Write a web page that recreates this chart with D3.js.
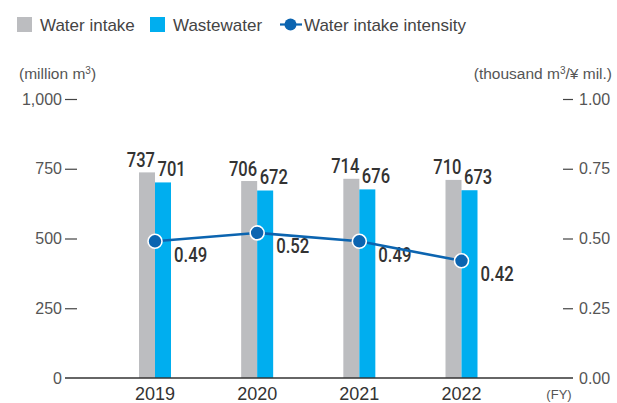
<!DOCTYPE html>
<html>
<head>
<meta charset="utf-8">
<script src="https://cdn.jsdelivr.net/npm/d3@7"></script>
<style>
  html, body { margin: 0; padding: 0; background: #fff; }
  svg { display: block; font-family: "Liberation Sans", Arial, sans-serif; }
</style>
</head>
<body>
<svg id="chart" width="617" height="403"></svg>
<script>
// Fiscal years and series
const years = ["2019", "2020", "2021", "2022"];
const waterIntake = [737, 706, 714, 710];       // million m³
const wastewater = [701, 672, 676, 673];        // million m³
const intensity = [0.49, 0.52, 0.49, 0.42];     // thousand m³ / ¥ mil.
const leftTicks = [0, 250, 500, 750, 1000];
const rightTicks = [0, 0.25, 0.5, 0.75, 1.0];

const svg = d3.select("#chart");
const colGray = "#bcbdc0";
const colBlue = "#00aeef";
const colLine = "#0b64b0";
const colText = "#555";

const plotLeft = 65, plotRight = 573;
const yTop = 99, yBottom = 378;

const x = d3.scalePoint().domain(years).range([155, 461.5]);
const yL = d3.scaleLinear().domain([0, 1000]).range([yBottom, yTop]);
const yR = d3.scaleLinear().domain([0, 1]).range([yBottom, yTop]);
const barW = 16;

// Left axis
const leftAxis = d3.axisLeft(yL).tickValues(leftTicks)
  .tickFormat(d3.format(",")).tickSize(0).tickPadding(0);
const gL = svg.append("g").attr("transform", `translate(${plotLeft},0)`).call(leftAxis);
gL.select(".domain").remove();
gL.selectAll(".tick text").attr("x", -3).attr("fill", colText)
  .style("font-size", "16px").style("font-family", "'Liberation Sans',Arial,sans-serif");
gL.selectAll(".tick").filter(d => d > 0).append("line")
  .attr("x1", 0).attr("x2", 12).attr("stroke", "#444").attr("stroke-width", 1.2);

// Right axis
const rightAxis = d3.axisRight(yR).tickValues(rightTicks)
  .tickFormat(d3.format(".2f")).tickSize(0).tickPadding(0);
const gR = svg.append("g").attr("transform", `translate(${plotRight},0)`).call(rightAxis);
gR.select(".domain").remove();
gR.selectAll(".tick text").attr("x", 6).attr("fill", colText)
  .style("font-size", "16px").style("font-family", "'Liberation Sans',Arial,sans-serif");
gR.selectAll(".tick").filter(d => d > 0).append("line")
  .attr("x1", -10).attr("x2", 0).attr("stroke", "#444").attr("stroke-width", 1.2);

// Axis titles
svg.append("text").attr("x", 19).attr("y", 79).attr("fill", colText)
  .style("font-size", "15.5px").html("(million m<tspan dy='-5' font-size='10'>3</tspan><tspan dy='5'>)</tspan>");
svg.append("text").attr("x", 612).attr("y", 79).attr("text-anchor", "end").attr("fill", colText)
  .style("font-size", "15.5px").html("(thousand m<tspan dy='-5' font-size='10'>3</tspan><tspan dy='5'>/¥ mil.)</tspan>");

// Bars
const bars = svg.append("g");
bars.selectAll("rect.intake").data(years).join("rect")
  .attr("x", d => x(d) - barW).attr("width", barW)
  .attr("y", (d, i) => yL(waterIntake[i]))
  .attr("height", (d, i) => yBottom - yL(waterIntake[i]))
  .attr("fill", colGray);
bars.selectAll("rect.waste").data(years).join("rect")
  .attr("x", d => x(d)).attr("width", barW)
  .attr("y", (d, i) => yL(wastewater[i]))
  .attr("height", (d, i) => yBottom - yL(wastewater[i]))
  .attr("fill", colBlue);

// Baseline
svg.append("line").attr("x1", plotLeft).attr("x2", plotRight)
  .attr("y1", yBottom).attr("y2", yBottom).attr("stroke", "#333").attr("stroke-width", 1.3);

// Value labels in a condensed face
const lbl = svg.append("g").style("font-family", "Roboto, sans-serif").style("font-weight", "500")
  .style("font-size", "21px").attr("fill", "#333");
const condensedWidth = s => s.replace(/[^0-9]/g, "").length * 9.4 + s.replace(/[0-9]/g, "").length * 5;
function valueLabel(px, py, s, anchor) {
  lbl.append("text").attr("x", px).attr("y", py).attr("text-anchor", anchor)
    .attr("textLength", condensedWidth(s)).attr("lengthAdjust", "spacingAndGlyphs").text(s);
}
years.forEach((yr, i) => {
  valueLabel(x(yr) + 0, yL(waterIntake[i]) - 5.5, String(waterIntake[i]), "end");
  valueLabel(x(yr) + 2.5, yL(wastewater[i]) - 6.5, String(wastewater[i]), "start");
});

// Intensity line
const line = d3.line().x((d, i) => x(years[i])).y(d => yR(d));
svg.append("path").datum(intensity).attr("d", line)
  .attr("fill", "none").attr("stroke", colLine).attr("stroke-width", 2.6);
svg.selectAll("circle.pt").data(intensity).join("circle")
  .attr("cx", (d, i) => x(years[i])).attr("cy", d => yR(d)).attr("r", 7)
  .attr("fill", colLine).attr("stroke", "#fff").attr("stroke-width", 1.6);
intensity.forEach((v, i) => {
  valueLabel(x(years[i]) + 19, yR(v) + 20.5, v.toFixed(2), "start");
});

// X labels
svg.selectAll("text.xl").data(years).join("text")
  .attr("x", d => x(d)).attr("y", 400).attr("text-anchor", "middle")
  .attr("fill", "#333").style("font-size", "18px").text(d => d);
svg.append("text").attr("x", 559).attr("y", 399).attr("text-anchor", "middle")
  .attr("fill", colText).style("font-size", "13px").text("(FY)");

// Legend
const lg = svg.append("g").style("font-size", "17px").attr("fill", "#444");
lg.append("rect").attr("x", 17).attr("y", 17).attr("width", 15).attr("height", 15).attr("fill", colGray);
lg.append("text").attr("x", 40).attr("y", 31).text("Water intake");
lg.append("rect").attr("x", 150).attr("y", 17).attr("width", 15).attr("height", 15).attr("fill", colBlue);
lg.append("text").attr("x", 173).attr("y", 31).text("Wastewater");
lg.append("line").attr("x1", 280).attr("x2", 302).attr("y1", 24.5).attr("y2", 24.5)
  .attr("stroke", colLine).attr("stroke-width", 2.2);
lg.append("circle").attr("cx", 290.5).attr("cy", 24.5).attr("r", 6).attr("fill", colLine);
lg.append("text").attr("x", 304).attr("y", 31).text("Water intake intensity");
</script>
</body>
</html>
